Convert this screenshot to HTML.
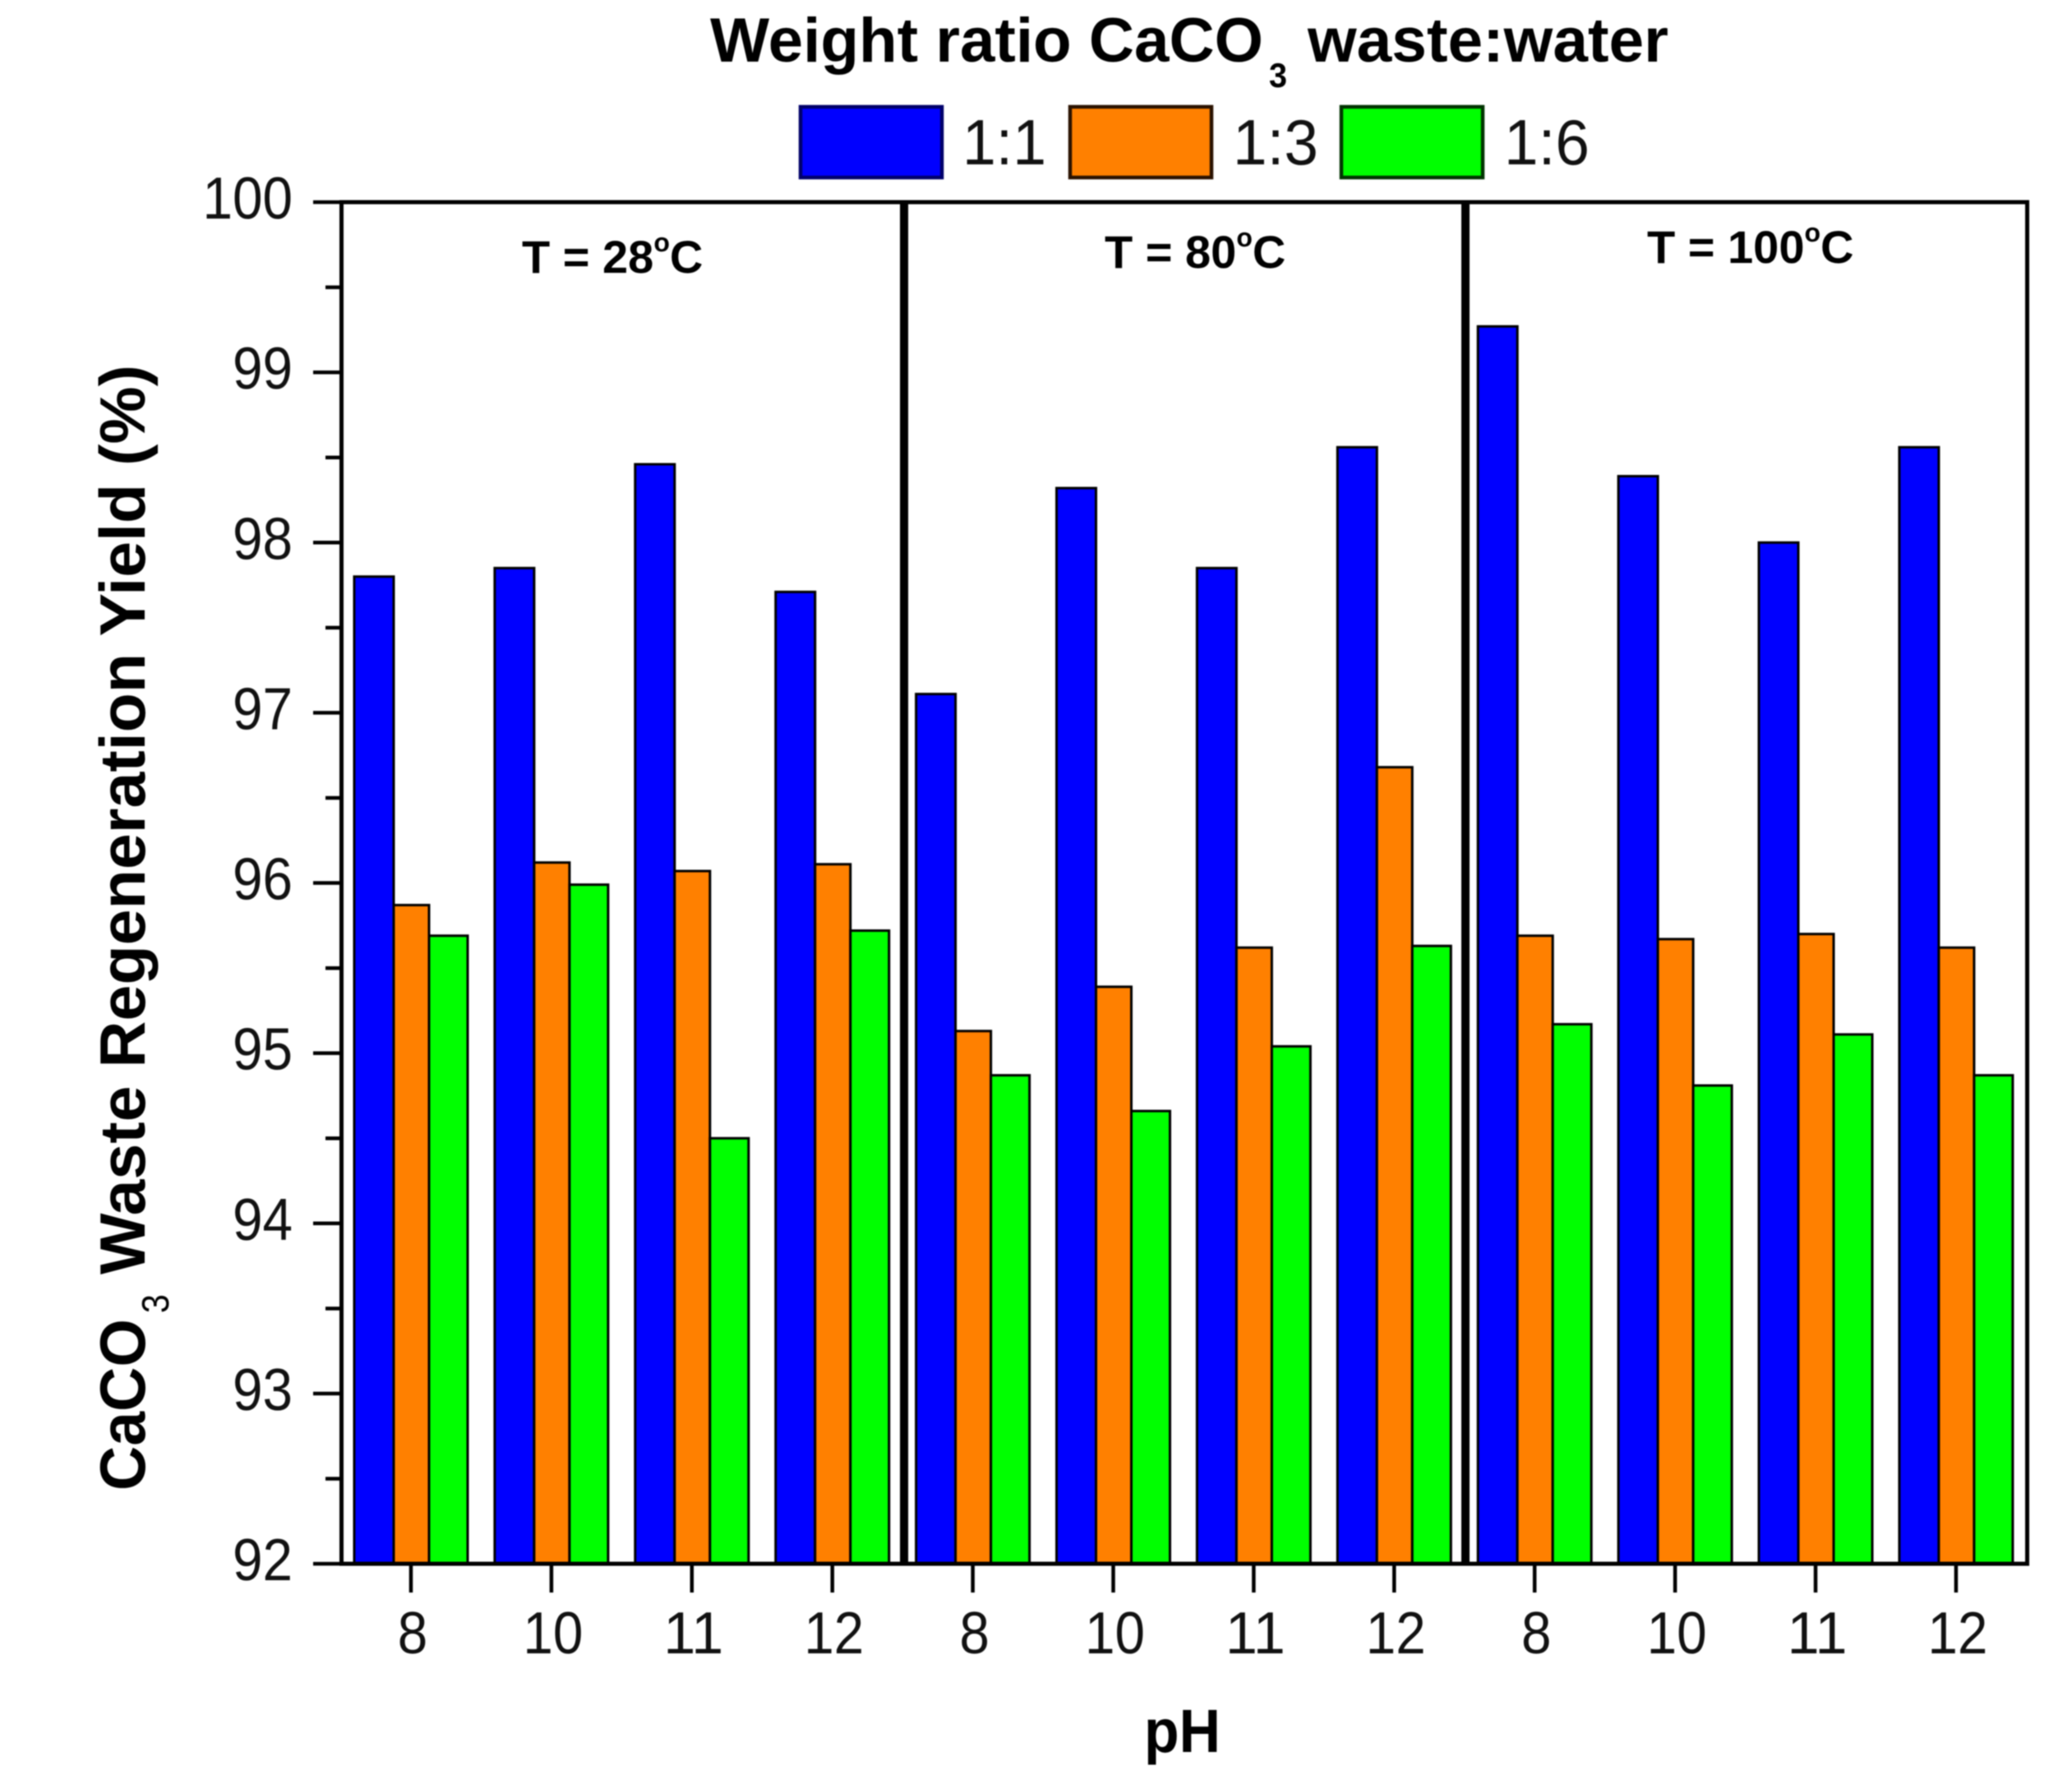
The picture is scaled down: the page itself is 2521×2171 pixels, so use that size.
<!DOCTYPE html>
<html lang="en">
<head>
<meta charset="utf-8">
<title>CaCO3 Waste Regeneration Yield</title>
<style>
  html, body { margin: 0; padding: 0; background: #fff; overflow: hidden; }
  svg { display: block; font-family: "Liberation Sans", Arial, sans-serif; filter: blur(0.8px); }
</style>
</head>
<body>
<svg id="chart" xmlns="http://www.w3.org/2000/svg" width="2521" height="2171" viewBox="0 0 2521 2171">
  <rect x="0" y="0" width="2521" height="2171" fill="#fff"/>

  <g fill="#000">
    <text x="864" y="75" font-size="76" font-weight="bold" textLength="673" lengthAdjust="spacingAndGlyphs">Weight ratio CaCO</text>
    <text x="1544" y="106" font-size="42" font-weight="bold" textLength="22" lengthAdjust="spacingAndGlyphs">3</text>
    <text x="1591" y="75" font-size="76" font-weight="bold" textLength="439" lengthAdjust="spacingAndGlyphs">waste:water</text>
  </g>

  <g>
    <g>
      <rect x="974" y="130" width="172" height="86" fill="#0000ff" stroke="#00006a" stroke-width="4.5"/>
      <text x="1171" y="200" font-size="78" fill="#111" textLength="102" lengthAdjust="spacingAndGlyphs">1:1</text>
    </g>
    <g>
      <rect x="1302" y="130" width="172" height="86" fill="#ff8000" stroke="#2a1200" stroke-width="4.5"/>
      <text x="1500" y="200" font-size="78" fill="#111" textLength="104" lengthAdjust="spacingAndGlyphs">1:3</text>
    </g>
    <g>
      <rect x="1632" y="130" width="172" height="86" fill="#00ff00" stroke="#003300" stroke-width="4.5"/>
      <text x="1830" y="200" font-size="78" fill="#111" textLength="104" lengthAdjust="spacingAndGlyphs">1:6</text>
    </g>
  </g>

  <g id="bars"></g>
  <g id="y-axis"></g>
  <g id="x-axis"></g>

  <rect x="415.5" y="246" width="2051" height="1657" fill="none" stroke="#000" stroke-width="5"/>
  <line x1="1100" y1="246" x2="1100" y2="1903" stroke="#000" stroke-width="10"/>
  <line x1="1783" y1="246" x2="1783" y2="1903" stroke="#000" stroke-width="10"/>

  <text x="635" y="332" font-size="56" font-weight="bold" fill="#000">T = 28<tspan dy="-26" font-size="32">o</tspan><tspan dy="26">C</tspan></text>
  <text x="1344" y="326" font-size="56" font-weight="bold" fill="#000">T = 80<tspan dy="-26" font-size="32">o</tspan><tspan dy="26">C</tspan></text>
  <text x="2004" y="320" font-size="56" font-weight="bold" fill="#000">T = 100<tspan dy="-26" font-size="32">o</tspan><tspan dy="26">C</tspan></text>

  <text x="1392" y="2132" font-size="74" font-weight="bold" fill="#000" textLength="93" lengthAdjust="spacingAndGlyphs">pH</text>

  <g fill="#000">
    <text transform="translate(176,1814) rotate(-90)" font-size="78" font-weight="bold" textLength="209" lengthAdjust="spacingAndGlyphs">CaCO</text>
    <text transform="translate(205,1598) rotate(-90)" font-size="46" textLength="23" lengthAdjust="spacingAndGlyphs">3</text>
    <text transform="translate(176,1551) rotate(-90)" font-size="78" font-weight="bold" textLength="1107" lengthAdjust="spacingAndGlyphs">Waste Regeneration Yield (%)</text>
  </g>
</svg>

<script>
const categories = ["8", "10", "11", "12", "8", "10", "11", "12", "8", "10", "11", "12"];
const ratio1to1 = [97.80, 97.85, 98.46, 97.71, 97.11, 98.32, 97.85, 98.56, 99.27, 98.39, 98.00, 98.56];
const ratio1to3 = [95.87, 96.12, 96.07, 96.11, 95.13, 95.39, 95.62, 96.68, 95.69, 95.67, 95.70, 95.62];
const ratio1to6 = [95.69, 95.99, 94.50, 95.72, 94.87, 94.66, 95.04, 95.63, 95.17, 94.81, 95.11, 94.87];
const yTickLabels = [92, 93, 94, 95, 96, 97, 98, 99, 100];
const yMinorTicks = [92.5, 93.5, 94.5, 95.5, 96.5, 97.5, 98.5, 99.5];

const NS = "http://www.w3.org/2000/svg";
const BASE = 92;
const TOP = 100;
const PLOT_TOP = 246;
const PLOT_BOTTOM = 1903;

function yScale(v) {
  return PLOT_BOTTOM - (v - BASE) * (PLOT_BOTTOM - PLOT_TOP) / (TOP - BASE);
}
function xScale(i) {
  return 500 + i * 170.9;
}
function drawBar(group, cx, left, right, value, fill) {
  const r = document.createElementNS(NS, "rect");
  r.setAttribute("x", cx + left);
  r.setAttribute("y", yScale(value));
  r.setAttribute("width", right - left);
  r.setAttribute("height", PLOT_BOTTOM - yScale(value));
  r.setAttribute("fill", fill);
  r.setAttribute("stroke", "#000");
  r.setAttribute("stroke-width", "3");
  group.appendChild(r);
  return r;
}
function drawLine(group, x1, y1, x2, y2) {
  const l = document.createElementNS(NS, "line");
  l.setAttribute("x1", x1);
  l.setAttribute("y1", y1);
  l.setAttribute("x2", x2);
  l.setAttribute("y2", y2);
  l.setAttribute("stroke", "#000");
  l.setAttribute("stroke-width", "4.5");
  group.appendChild(l);
  return l;
}
function drawLabel(group, x, y, anchor, content) {
  const t = document.createElementNS(NS, "text");
  t.setAttribute("x", x);
  t.setAttribute("y", y);
  t.setAttribute("text-anchor", anchor);
  t.setAttribute("font-size", "72");
  t.setAttribute("textLength", content.length * 36.5);
  t.setAttribute("lengthAdjust", "spacingAndGlyphs");
  t.setAttribute("fill", "#111");
  t.textContent = content;
  group.appendChild(t);
  return t;
}

const barsGroup = document.getElementById("bars");
const xAxisGroup = document.getElementById("x-axis");
const yAxisGroup = document.getElementById("y-axis");

categories.forEach(function (cat, i) {
  const cx = xScale(i);
  const b1 = drawBar(barsGroup, cx, -69, -21, ratio1to1[i], "#0000ff");
  
  
  const b3 = drawBar(barsGroup, cx, -21, 22, ratio1to3[i], "#ff8000");
  
  
  const b6 = drawBar(barsGroup, cx, 22, 69, ratio1to6[i], "#00ff00");
  
  

  const tick = drawLine(xAxisGroup, cx, PLOT_BOTTOM, cx, PLOT_BOTTOM + 35);
  
  
  const label = drawLabel(xAxisGroup, cx + 2, 2012, "middle", cat);
  
  
});

yTickLabels.forEach(function (v) {
  const tick = drawLine(yAxisGroup, 381, yScale(v), 415, yScale(v));
  
  
  const label = drawLabel(yAxisGroup, 356, yScale(v) + 20, "end", String(v));
  
  
});

yMinorTicks.forEach(function (v) {
  const tick = drawLine(yAxisGroup, 396, yScale(v), 415, yScale(v));
  
  
});
</script>
</body>
</html>
